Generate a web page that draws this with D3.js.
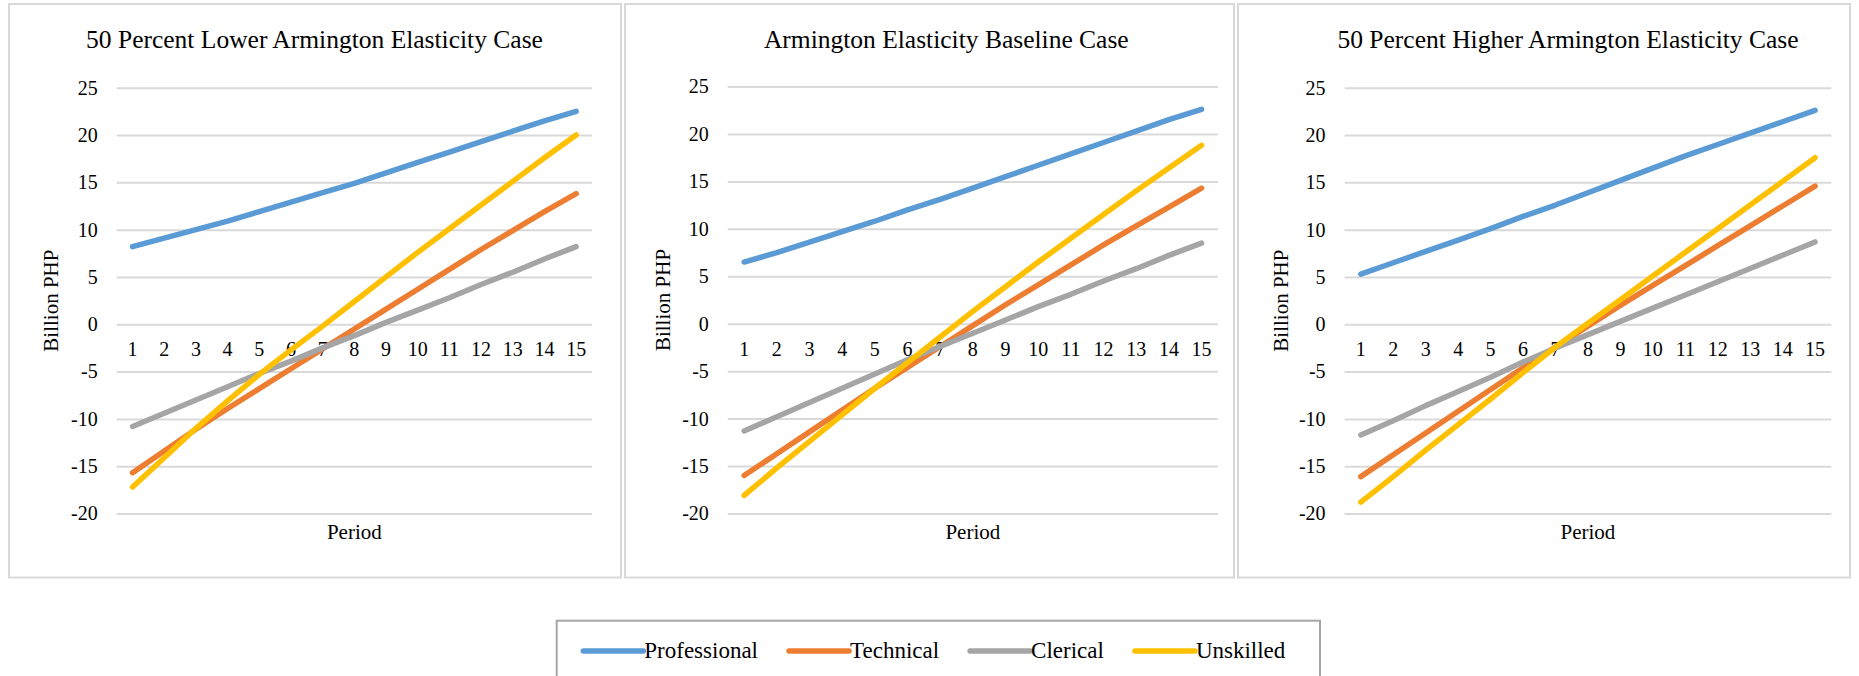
<!DOCTYPE html>
<html><head><meta charset="utf-8">
<script src="https://cdn.jsdelivr.net/npm/d3@7"></script>
<style>
body{margin:0;background:#fff}
svg{display:block}
text{font-family:"Liberation Serif","Times New Roman",serif;fill:#000}
</style>
</head><body>
<svg id="chart" width="1859" height="676"></svg>
<script>
// ---------- data ----------
const periods = [1,2,3,4,5,6,7,8,9,10,11,12,13,14,15];
const yTicks = [-20,-15,-10,-5,0,5,10,15,20,25];
const seriesNames = ["Professional","Technical","Clerical","Unskilled"];
const seriesColors = ["#5b9bd5","#ed7d31","#a5a5a5","#ffc000"];
const panelTitles = [
  "50 Percent Lower Armington Elasticity Case",
  "Armington Elasticity Baseline Case",
  "50 Percent Higher Armington Elasticity Case"
];
const xTitle = "Period";
const yTitle = "Billion PHP";

const lowerProfessional = [8.2, 9.1, 10.0, 10.9, 11.9, 12.9, 13.9, 14.9, 16.0, 17.1, 18.2, 19.3, 20.4, 21.5, 22.5];
const lowerTechnical    = [-15.7, -13.4, -11.1, -8.9, -6.8, -4.7, -2.6, -0.5, 1.6, 3.7, 5.8, 7.9, 9.9, 11.9, 13.8];
const lowerClerical     = [-10.8, -9.4, -8.0, -6.6, -5.2, -3.9, -2.5, -1.2, 0.2, 1.5, 2.8, 4.2, 5.5, 6.9, 8.2];
const lowerUnskilled    = [-17.2, -14.1, -11.0, -8.1, -5.3, -2.7, -0.2, 2.4, 5.0, 7.6, 10.1, 12.6, 15.1, 17.6, 20.0];

const baseProfessional = [6.5, 7.5, 8.6, 9.7, 10.8, 12.0, 13.1, 14.3, 15.5, 16.7, 17.9, 19.1, 20.3, 21.5, 22.6];
const baseTechnical    = [-16.0, -13.7, -11.4, -9.1, -6.8, -4.6, -2.4, -0.2, 2.0, 4.1, 6.2, 8.3, 10.3, 12.3, 14.3];
const baseClerical     = [-11.3, -9.8, -8.3, -6.8, -5.3, -3.8, -2.4, -1.0, 0.4, 1.8, 3.1, 4.5, 5.8, 7.2, 8.5];
const baseUnskilled    = [-18.1, -15.2, -12.4, -9.6, -6.8, -4.1, -1.4, 1.3, 3.9, 6.5, 9.0, 11.5, 14.0, 16.4, 18.8];

const higherProfessional = [5.3, 6.5, 7.7, 8.9, 10.1, 11.4, 12.6, 13.9, 15.2, 16.5, 17.8, 19.0, 20.2, 21.4, 22.6];
const higherTechnical    = [-16.1, -13.8, -11.5, -9.2, -6.9, -4.6, -2.4, -0.2, 2.0, 4.1, 6.2, 8.3, 10.4, 12.5, 14.6];
const higherClerical     = [-11.7, -10.2, -8.6, -7.1, -5.6, -4.0, -2.5, -1.1, 0.3, 1.7, 3.1, 4.5, 5.9, 7.3, 8.7];
const higherUnskilled    = [-18.8, -16.1, -13.3, -10.6, -7.9, -5.1, -2.4, 0.1, 2.6, 5.1, 7.6, 10.1, 12.6, 15.1, 17.6];

const panelSeries = [
  [lowerProfessional, lowerTechnical, lowerClerical, lowerUnskilled],
  [baseProfessional, baseTechnical, baseClerical, baseUnskilled],
  [higherProfessional, higherTechnical, higherClerical, higherUnskilled]
];

// ---------- layout ----------
const layout = [
  {bx0: 9,    bx1: 621,  px0: 116.7,  px1: 592,    yTitleX: 58,   titleX: 314.5, top: 87.7},
  {bx0: 625,  bx1: 1234, px0: 727.8,  px1: 1217.9, yTitleX: 670,  titleX: 946.3, top: 86.5},
  {bx0: 1238, bx1: 1850, px0: 1344.6, px1: 1831.3, yTitleX: 1288, titleX: 1568,  top: 87.7}
];
const by0 = 4, by1 = 577.5, plotBottom = 513.5;

const svg = d3.select("#chart");

layout.forEach((L, pi) => {
  const g = svg.append("g");
  g.append("rect")
    .attr("x", L.bx0).attr("y", by0)
    .attr("width", L.bx1 - L.bx0).attr("height", by1 - by0)
    .attr("fill", "#fff").attr("stroke", "#d9d9d9").attr("stroke-width", 2);

  const x = d3.scaleBand().domain(periods).range([L.px0, L.px1]);
  const y = d3.scaleLinear().domain([-20, 25]).range([plotBottom, L.top]);
  const cx = p => x(p) + x.bandwidth() / 2;

  // y axis with gridlines
  const ya = g.append("g").attr("transform", `translate(${L.px0},0)`)
    .call(d3.axisLeft(y).tickValues(yTicks).tickSize(-(L.px1 - L.px0)).tickPadding(19).tickFormat(d => String(d)));
  ya.select(".domain").remove();
  ya.selectAll(".tick line").attr("stroke", "#d9d9d9").attr("stroke-width", 2);
  ya.selectAll(".tick text").attr("font-size", 20).attr("fill", "#000");

  // x axis labels at zero line
  const xa = g.append("g").attr("transform", `translate(0,${y(0)})`)
    .call(d3.axisBottom(x).tickSize(0).tickPadding(18).tickFormat(d => String(d)));
  xa.select(".domain").remove();
  xa.selectAll(".tick text").attr("font-size", 20).attr("fill", "#000");

  // title
  g.append("text").attr("x", L.titleX).attr("y", 48.3)
    .attr("text-anchor", "middle").attr("font-size", 25.5)
    .text(panelTitles[pi]);

  // axis titles
  g.append("text").attr("x", (L.px0 + L.px1) / 2).attr("y", 539)
    .attr("text-anchor", "middle").attr("font-size", 21).text(xTitle);
  g.append("text")
    .attr("transform", `translate(${L.yTitleX},${(L.top + plotBottom) / 2}) rotate(-90)`)
    .attr("text-anchor", "middle").attr("font-size", 21).text(yTitle);

  // lines
  const line = d3.line().x((d, i) => cx(periods[i])).y(d => y(d));
  panelSeries[pi].forEach((vals, si) => {
    g.append("path").datum(vals)
      .attr("d", line)
      .attr("fill", "none")
      .attr("stroke", seriesColors[si])
      .attr("stroke-width", 5.5)
      .attr("stroke-linecap", "round")
      .attr("stroke-linejoin", "round");
  });
});

// ---------- legend ----------
const lg = svg.append("g");
lg.append("rect").attr("x", 556.7).attr("y", 620.7).attr("width", 1320 - 556.7).attr("height", 80)
  .attr("fill", "#fff").attr("stroke", "#a6a6a6").attr("stroke-width", 2);
let lx = 583.3;
const ly = 651;
seriesNames.forEach((name, i) => {
  lg.append("line").attr("x1", lx).attr("x2", lx + 60).attr("y1", ly).attr("y2", ly)
    .attr("stroke", seriesColors[i]).attr("stroke-width", 5.5).attr("stroke-linecap", "round");
  const t = lg.append("text").attr("x", lx + 61).attr("y", 658).attr("font-size", 23).text(name);
  const w = t.node().getComputedTextLength();
  lx = lx + 61 + w + 31;
});
</script>
</body></html>
